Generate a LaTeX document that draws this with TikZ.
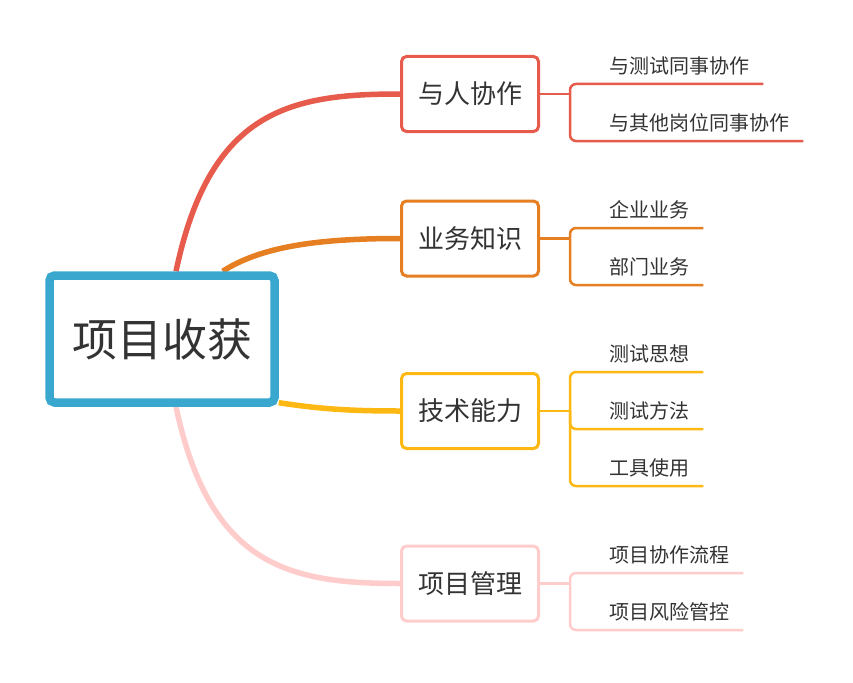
\documentclass[tikz,border=0pt]{standalone}
\usepackage{fontspec}
\setmainfont{Noto Sans CJK SC}
\usetikzlibrary{calc,backgrounds}
\definecolor{rootblue}{RGB}{58,168,206}
\definecolor{peoplered}{RGB}{230,91,75}
\definecolor{bizorange}{RGB}{230,126,34}
\definecolor{techyellow}{RGB}{253,184,19}
\definecolor{mgmtpink}{RGB}{255,204,204}
\definecolor{textgray}{RGB}{51,51,51}
\tikzset{
  rootbox/.style={draw=rootblue, line width=8.5pt, fill=white, rounded corners=5pt,
    minimum width=225pt, minimum height=127pt, text=textgray,
    font=\fontsize{45}{50}\selectfont},
  topicbox/.style={draw=#1, line width=3pt, fill=white, rounded corners=5pt,
    minimum width=137pt, minimum height=75pt, text=textgray,
    font=\fontsize{26}{30}\selectfont},
  subtopic/.style={anchor=south west, inner xsep=14pt, inner ysep=6pt,
    text height=16pt, text depth=4pt, text=textgray,
    font=\fontsize{20}{24}\selectfont},
  branchcurve/.style={draw=#1, line width=5.5pt},
  subline/.style={draw=#1, line width=2.5pt, rounded corners=6pt}
}
\begin{document}
\begin{tikzpicture}[x=1pt, y=-1pt]
  \useasboundingbox (0,0) rectangle (853,682);

  % central topic
  \node[rootbox] (root) at (162,339) {项目收获};

  % main branches
  \node[topicbox=peoplered] (people) at (470,94) {与人协作};
  \node[topicbox=bizorange] (biz) at (470,238.5) {业务知识};
  \node[topicbox=techyellow] (tech) at (470,411) {技术能力};
  \node[topicbox=mgmtpink] (mgmt) at (470,583.5) {项目管理};

  % sub topics
  \node[subtopic] (people1) at (595,84) {与测试同事协作};
  \node[subtopic] (people2) at (595,141) {与其他岗位同事协作};
  \node[subtopic] (biz1) at (595,228) {企业业务};
  \node[subtopic] (biz2) at (595,285) {部门业务};
  \node[subtopic] (tech1) at (595,372) {测试思想};
  \node[subtopic] (tech2) at (595,429) {测试方法};
  \node[subtopic] (tech3) at (595,486) {工具使用};
  \node[subtopic] (mgmt1) at (595,573) {项目协作流程};
  \node[subtopic] (mgmt2) at (595,630) {项目风险管控};

  % curves from the centre
  \begin{scope}[on background layer]
    \draw[branchcurve=peoplered] ($(root.north west)!0.56!(root.north east)$)
      .. controls (210,110) and (290,94) .. (people.west);
    \draw[branchcurve=bizorange] ($(root.north west)!0.76!(root.north east)$)
      .. controls (262,246) and (320,238.5) .. (biz.west);
    \draw[branchcurve=techyellow] ($(root.north east)!0.97!(root.south east)$)
      .. controls (320,409) and (350,411) .. (tech.west);
    \draw[branchcurve=mgmtpink] ($(root.south west)!0.56!(root.south east)$)
      .. controls (210,567) and (290,583.5) .. (mgmt.west);
  \end{scope}

  % brackets to the sub topics
  \draw[subline=peoplered] (people.east) -- ++(30,0) coordinate (peoplej);
  \draw[subline=peoplered] (peoplej) |- (people1.south east);
  \draw[subline=peoplered] (peoplej) |- (people2.south east);

  \draw[subline=bizorange] (biz.east) -- ++(30,0) coordinate (bizj);
  \draw[subline=bizorange] (bizj) |- (biz1.south east);
  \draw[subline=bizorange] (bizj) |- (biz2.south east);

  \draw[subline=techyellow] (tech.east) -- ++(30,0) coordinate (techj);
  \draw[subline=techyellow] (techj) |- (tech1.south east);
  \draw[subline=techyellow] (techj) |- (tech2.south east);
  \draw[subline=techyellow] (techj) |- (tech3.south east);

  \draw[subline=mgmtpink] (mgmt.east) -- ++(30,0) coordinate (mgmtj);
  \draw[subline=mgmtpink] (mgmtj) |- (mgmt1.south east);
  \draw[subline=mgmtpink] (mgmtj) |- (mgmt2.south east);
\end{tikzpicture}
\end{document}
